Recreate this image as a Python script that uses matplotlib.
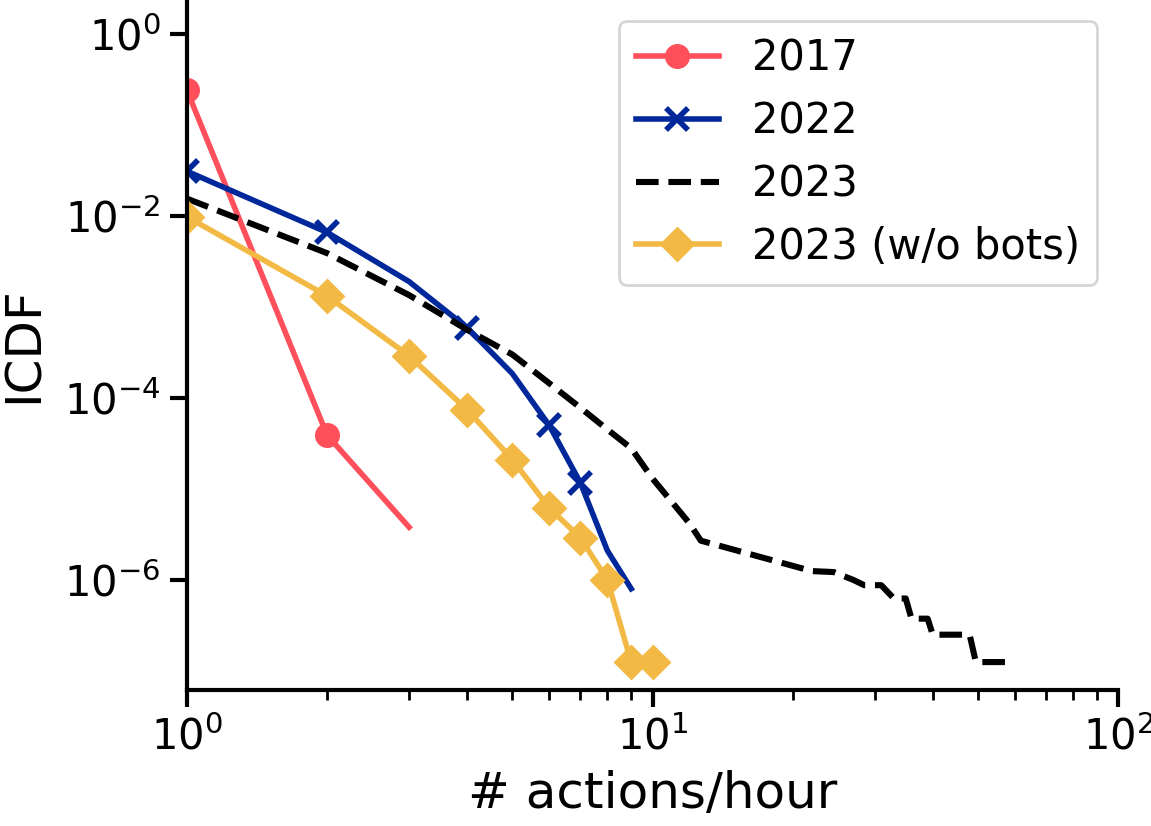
import matplotlib
matplotlib.use("Agg")
import matplotlib.pyplot as plt
from matplotlib.ticker import FixedLocator, NullLocator, LogFormatterSciNotation

# ---- data ----
x_2017 = [1, 2, 3]
y_2017 = [0.24, 3.9e-5, 3.8e-6]

x_2022 = [1, 2, 3, 4, 5, 6, 7, 8, 9]
y_2022 = [0.031, 6.6e-3, 1.9e-3, 5.9e-4, 1.85e-4, 5.0e-5, 1.17e-5, 2.1e-6, 8.0e-7]

x_2023 = [1, 2, 3, 4, 5, 6, 7, 8, 9, 10, 11, 12, 12.7, 22, 24.5, 27, 28.5, 31, 33,
          35, 36, 39, 40, 48, 49.5, 59.5]
y_2023 = [0.0155, 3.9e-3, 1.35e-3, 5.6e-4, 3.0e-4, 1.45e-4, 7.8e-5, 4.5e-5, 2.8e-5,
          1.3e-5, 7.2e-6, 4.2e-6, 2.7e-6, 1.25e-6, 1.22e-6, 1.0e-6, 8.75e-7, 8.75e-7,
          6.25e-7, 6.25e-7, 3.75e-7, 3.75e-7, 2.5e-7, 2.5e-7, 1.25e-7, 1.25e-7]

x_2023nb = [1, 2, 3, 4, 5, 6, 7, 8, 9, 10]
y_2023nb = [9.8e-3, 1.32e-3, 2.9e-4, 7.4e-5, 2.1e-5, 6.2e-6, 2.9e-6, 1.0e-6, 1.25e-7, 1.25e-7]

labels = ["2017", "2022", "2023", "2023 (w/o bots)"]
ytick_vals = [1, 1e-2, 1e-4, 1e-6]

plt.rcParams['font.family'] = ['DejaVu Sans']
plt.rcParams['font.size'] = 15

fig = plt.figure(figsize=(5.755, 4.13), dpi=200)
ax = fig.add_axes([187/1151, 1 - 690/826, (1118 - 187)/1151, 690/826])

ax.plot(x_2017, y_2017, color='#FF4F5A', lw=2, marker='o', markersize=8,
        markevery=[0, 1], label=labels[0])
ax.plot(x_2022, y_2022, color='#00289B', lw=2, marker='x', markersize=8,
        markeredgewidth=2, markevery=[0, 1, 3, 5, 6], label=labels[1])
ax.plot(x_2023, y_2023, color='black', lw=2.2, ls='--', label=labels[2])
ax.plot(x_2023nb, y_2023nb, color='#F2BA45', lw=2, marker='D', markersize=8,
        label=labels[3])

ax.set_xscale('log')
ax.set_yscale('log')
ax.set_xlim(1, 100)
ax.set_ylim(10**-7.21, 10**0.374)
ax.yaxis.set_major_locator(FixedLocator(ytick_vals))
ax.yaxis.set_minor_locator(NullLocator())
ax.yaxis.set_major_formatter(LogFormatterSciNotation())

ax.spines['top'].set_visible(False)
ax.spines['right'].set_visible(False)
for s in ['left', 'bottom']:
    ax.spines[s].set_linewidth(1.5)
ax.tick_params(which='major', width=1.5, length=6, labelsize=15)
ax.tick_params(which='minor', width=1.0, length=3.5)

ax.set_xlabel('# actions/hour', fontsize=18)
ax.set_ylabel('ICDF', fontsize=18, labelpad=6)

ax.legend(loc='upper right', fontsize=15)

fig.savefig('out.png', dpi=200)
